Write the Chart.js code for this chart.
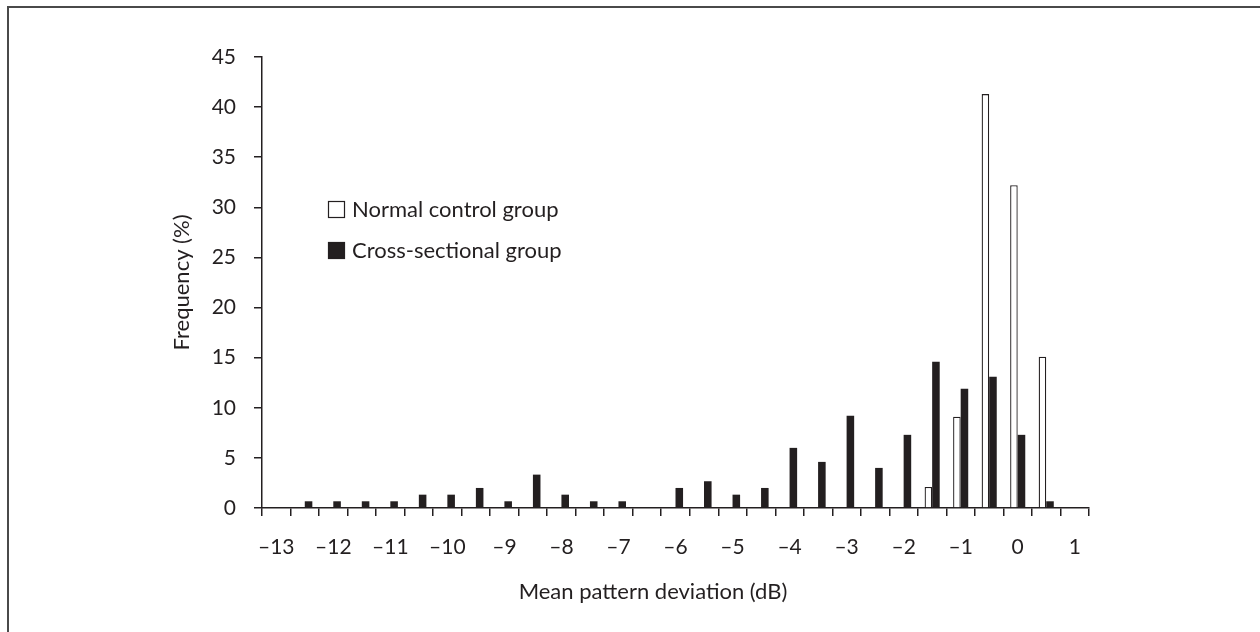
<!DOCTYPE html>
<html>
<head>
<meta charset="utf-8">
<script src="https://cdn.jsdelivr.net/npm/chart.js@4"></script>
<style>
  body { margin: 0; background: #fff; }
  #wrap { position: relative; width: 1260px; height: 632px; overflow: hidden; }
  #frame { position: absolute; left: 7px; top: 6px; width: 1300px; height: 700px;
           border-top: 2px solid #4a4a4a; border-left: 2px solid #4a4a4a; }
  #grafico { position: absolute; left: 0; top: 0; }
</style>
</head>
<body>
<div id="wrap">
  <div id="frame"></div>
  <canvas id="grafico" width="1260" height="632"></canvas>
</div>
<script>
// ======= Dados =======
const categorias = [-13, -12.5, -12, -11.5, -11, -10.5, -10, -9.5, -9, -8.5, -8, -7.5, -7, -6.5,
  -6, -5.5, -5, -4.5, -4, -3.5, -3, -2.5, -2, -1.5, -1, -0.5, 0, 0.5, 1];
const grupoNormal = [0, 0, 0, 0, 0, 0, 0, 0, 0, 0, 0, 0, 0, 0,
  0, 0, 0, 0, 0, 0, 0, 0, 0, 2.1, 9.1, 41.3, 32.2, 15.1, 0];
const grupoTransversal = [0, 0.67, 0.67, 0.67, 0.67, 1.33, 1.33, 2.0, 0.67, 3.33, 1.33, 0.67, 0.67, 0,
  2.0, 2.67, 1.33, 2.0, 6.0, 4.6, 9.2, 4.0, 7.3, 14.6, 11.9, 13.1, 7.3, 0.67, 0];
const ticksY = [0, 5, 10, 15, 20, 25, 30, 35, 40, 45];

const tinta = '#231f20';
const fonteTicks = { family: 'Lato', size: 21 };
const fonteTexto = { family: 'Lato', size: 22 };

// rótulo com travessão no lugar do sinal de menos
const formata = v => v < 0 ? '\u2013' + Math.abs(v) : String(v);

// ======= Legenda e título do eixo x =======
const extras = {
  id: 'extras',
  afterDraw(chart) {
    const ctx = chart.ctx;
    ctx.save();
    ctx.font = '22px Lato';
    ctx.fillStyle = tinta;
    ctx.textBaseline = 'middle';
    ctx.textAlign = 'left';
    const ds = chart.data.datasets;
    ds.forEach((d, i) => {
      const y = 201 + i * 41;
      ctx.fillStyle = d.backgroundColor;
      ctx.fillRect(328, y, 17, 17);
      ctx.strokeStyle = tinta;
      ctx.lineWidth = 1.2;
      ctx.strokeRect(328.5, y + 0.5, 16, 16);
      ctx.fillStyle = tinta;
      ctx.fillText(d.label, 352, y + 8.5);
    });
    ctx.textAlign = 'center';
    ctx.fillText('Mean pattern deviation (dB)', chart.chartArea.left + 391, 592);
    ctx.restore();
  }
};

new Chart(document.getElementById('grafico'), {
  type: 'bar',
  data: {
    labels: categorias,
    datasets: [
      { label: 'Normal control group', data: grupoNormal, backgroundColor: '#ffffff',
        borderColor: tinta, borderWidth: 1.3, borderSkipped: 'start' },
      { label: 'Cross-sectional group', data: grupoTransversal, backgroundColor: tinta,
        borderWidth: 0 }
    ]
  },
  options: {
    responsive: false,
    animation: false,
    layout: { padding: { left: 160, top: 57, right: 171, bottom: 0 } },
    datasets: { bar: { categoryPercentage: 0.53, barPercentage: 1 } },
    plugins: { legend: { display: false }, tooltip: { enabled: false } },
    scales: {
      x: {
        offset: true,
        afterFit: s => { s.height = 124; },
        grid: { offset: true, drawOnChartArea: false, drawTicks: true, tickLength: 8,
                color: tinta, lineWidth: 1.5 },
        border: { display: true, color: tinta, width: 1.5 },
        ticks: {
          autoSkip: false, maxRotation: 0, padding: 19, color: tinta, font: fonteTicks,
          callback: (v, i) => Number.isInteger(categorias[i]) ? formata(categorias[i]) : ''
        }
      },
      y: {
        min: 0, max: 45,
        afterFit: s => { s.width = 102; },
        afterBuildTicks: s => { s.ticks = ticksY.map(v => ({ value: v })); },
        grid: { drawOnChartArea: false, drawTicks: true, tickLength: 8, color: tinta, lineWidth: 1.5 },
        border: { display: true, color: tinta, width: 1.5 },
        ticks: { padding: 18, color: tinta, font: fonteTicks },
        title: { display: true, text: 'Frequency (%)', color: tinta, font: fonteTexto,
                 padding: { top: 9, bottom: 0 } }
      }
    }
  },
  plugins: [extras]
});
</script>
</body>
</html>
